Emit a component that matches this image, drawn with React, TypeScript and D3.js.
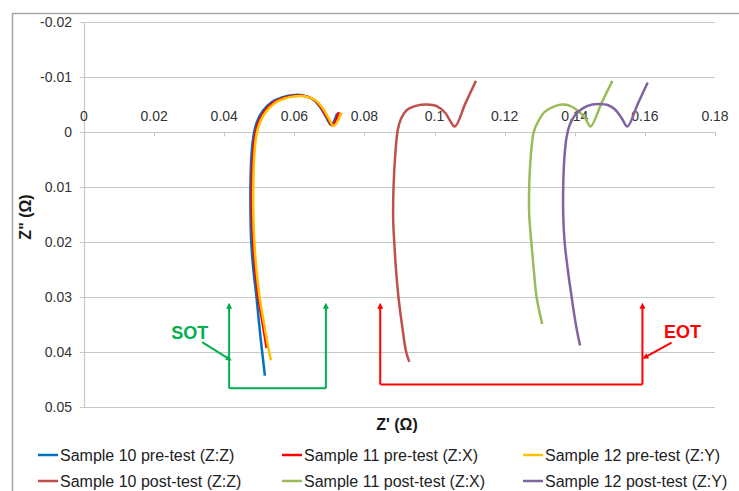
import React from "react";
import * as d3 from "d3";

// Z' (x) and Z'' (y) readings, in ohms
const s10Pre: [number, number][] = [
  [0.0722, -0.0034], [0.0705, -0.0013], [0.069, -0.0028], [0.0672, -0.0047],
  [0.065, -0.0061], [0.0622, -0.0067], [0.0595, -0.0067], [0.0565, -0.0063],
  [0.0535, -0.0054], [0.051, -0.0038], [0.0493, -0.0018], [0.0484, 0.0005],
  [0.0478, 0.004], [0.0475, 0.009], [0.0475, 0.015], [0.0477, 0.02],
  [0.0483, 0.025], [0.0492, 0.03], [0.0503, 0.037], [0.0516, 0.0443],
];
const s11Pre: [number, number][] = [
  [0.0727, -0.0036], [0.0708, -0.0012], [0.0693, -0.0027], [0.0675, -0.0046],
  [0.0653, -0.006], [0.0625, -0.0066], [0.0598, -0.0066], [0.0568, -0.0062],
  [0.0539, -0.0053], [0.0514, -0.0037], [0.0497, -0.0017], [0.0488, 0.0005],
  [0.0482, 0.004], [0.0479, 0.009], [0.0479, 0.015], [0.0482, 0.02],
  [0.0488, 0.025], [0.0497, 0.03], [0.051, 0.035], [0.0521, 0.0393],
];
const s12Pre: [number, number][] = [
  [0.0735, -0.0035], [0.0712, -0.0011], [0.0697, -0.0026], [0.0679, -0.0045],
  [0.0657, -0.0059], [0.0629, -0.0065], [0.0602, -0.0065], [0.0572, -0.0061],
  [0.0543, -0.0052], [0.0518, -0.0036], [0.0501, -0.0016], [0.0492, 0.0005],
  [0.0486, 0.004], [0.0483, 0.009], [0.0483, 0.015], [0.0486, 0.02],
  [0.0492, 0.025], [0.0501, 0.03], [0.0514, 0.035], [0.0525, 0.039],
  [0.0533, 0.0415],
];
const s10Post: [number, number][] = [
  [0.1118, -0.0093], [0.1088, -0.0052], [0.1058, -0.001], [0.1043, -0.0022],
  [0.103, -0.0035], [0.1006, -0.0047], [0.0978, -0.005], [0.0949, -0.0048],
  [0.0921, -0.004], [0.0905, -0.0025], [0.0895, -0.0003], [0.0888, 0.004],
  [0.0883, 0.01], [0.0882, 0.016], [0.0885, 0.02], [0.089, 0.025],
  [0.0897, 0.03], [0.0907, 0.035], [0.0919, 0.04], [0.0928, 0.0418],
];
const s11Post: [number, number][] = [
  [0.1507, -0.0093], [0.1476, -0.0052], [0.1445, -0.001], [0.143, -0.0025],
  [0.1406, -0.004], [0.1385, -0.0048], [0.1363, -0.005], [0.134, -0.0046],
  [0.1315, -0.0037], [0.1298, -0.0022], [0.1283, 0.0], [0.1275, 0.004],
  [0.127, 0.01], [0.127, 0.015], [0.1276, 0.02], [0.1283, 0.025],
  [0.1291, 0.03], [0.1307, 0.0349],
];
const s12Post: [number, number][] = [
  [0.1608, -0.009], [0.1579, -0.005], [0.155, -0.001], [0.1534, -0.0025],
  [0.1515, -0.0041], [0.1494, -0.0049], [0.1472, -0.0051], [0.145, -0.005],
  [0.1425, -0.0044], [0.1401, -0.0031], [0.1385, -0.0012], [0.1376, 0.0012],
  [0.137, 0.005], [0.1367, 0.01], [0.1367, 0.015], [0.1371, 0.02],
  [0.138, 0.025], [0.1391, 0.03], [0.1403, 0.035], [0.1415, 0.0388],
];

const seriesNames = [
  "Sample 10 pre-test (Z:Z)", "Sample 11 pre-test (Z:X)", "Sample 12 pre-test (Z:Y)",
  "Sample 10 post-test (Z:Z)", "Sample 11 post-test (Z:X)", "Sample 12 post-test (Z:Y)",
];
const seriesColors = ["#0070c0", "#ff0000", "#ffc000", "#c0504d", "#9bbb59", "#8064a2"];
const seriesData = [s10Pre, s11Pre, s12Pre, s10Post, s11Post, s12Post];

const xTicks = [0, 0.02, 0.04, 0.06, 0.08, 0.1, 0.12, 0.14, 0.16, 0.18];
const yTicks = [-0.02, -0.01, 0, 0.01, 0.02, 0.03, 0.04, 0.05];

// bracket annotations (data units)
const sotBracket = { x0: 0.0414, x1: 0.069, bottom: 0.0466, top: 0.031 };
const sotPointer = { from: [0.0337, 0.0382], to: [0.041, 0.0411], label: [0.0302, 0.0376] };
const eotBracket = { x0: 0.0845, x1: 0.1593, bottom: 0.0459, top: 0.031 };
const eotPointer = { from: [0.1676, 0.0383], to: [0.1605, 0.0408], label: [0.1707, 0.0375] };

const FONT = "'Liberation Sans', Arial, sans-serif";

export default function App() {
  const x = d3.scaleLinear().domain([0, 0.18]).range([84, 715]);
  const y = d3.scaleLinear().domain([-0.02, 0.05]).range([22, 407]);
  const line = d3
    .line<[number, number]>()
    .x((d) => x(d[0]))
    .y((d) => y(d[1]))
    .curve(d3.curveCatmullRom.alpha(0.5));

  const fmt = (v: number) => (Math.abs(v) < 1e-9 ? "0" : String(+v.toFixed(2)));

  const bracket = (b: typeof sotBracket, color: string, id: string) => (
    <g stroke={color} strokeWidth={2} fill="none">
      <line x1={x(b.x0)} y1={y(b.bottom)} x2={x(b.x0)} y2={y(b.top) + 5} markerEnd={`url(#${id})`} />
      <line x1={x(b.x1)} y1={y(b.bottom)} x2={x(b.x1)} y2={y(b.top) + 5} markerEnd={`url(#${id})`} />
      <line x1={x(b.x0)} y1={y(b.bottom)} x2={x(b.x1)} y2={y(b.bottom)} />
    </g>
  );
  const pointer = (p: typeof sotPointer, color: string, id: string, text: string) => (
    <g>
      <line
        x1={x(p.from[0])} y1={y(p.from[1])} x2={x(p.to[0])} y2={y(p.to[1])}
        stroke={color} strokeWidth={2} markerEnd={`url(#${id})`}
      />
      <text x={x(p.label[0])} y={y(p.label[1])} textAnchor="middle" fontWeight="bold"
        fontSize={18} fill={color} fontFamily={FONT}>{text}</text>
    </g>
  );

  const legendCols = [38, 282, 523];
  const legendRows = [455, 481];

  return (
    <svg width={739} height={491} style={{ position: "absolute", left: 0, top: 0 }} fontFamily={FONT}>
      <defs>
        {[["ah-g", "#00b050"], ["ah-r", "#ff0000"]].map(([id, c]) => (
          <marker key={id} id={id} viewBox="0 0 10 10" refX="2" refY="5" markerWidth="3.2" markerHeight="3"
            orient="auto">
            <path d="M0,0 L10,5 L0,10 z" fill={c} />
          </marker>
        ))}
      </defs>
      <rect x={0} y={0} width={739} height={491} fill="#fff" />
      <rect x={12.5} y={13.5} width={800} height={600} fill="none" stroke="#a6a6a6" strokeWidth={1.5} />

      {/* gridlines */}
      {yTicks.map((t) => (
        <line key={t} x1={84} x2={715} y1={Math.round(y(t)) + 0.5} y2={Math.round(y(t)) + 0.5}
          stroke="#c8c8c8" strokeWidth={1.2} />
      ))}
      <line x1={84.5} x2={84.5} y1={y(-0.02)} y2={y(0.05)} stroke="#c8c8c8" strokeWidth={1.2} />
      {yTicks.map((t) => (
        <g key={"yt" + t}>
          <line x1={80} x2={84} y1={Math.round(y(t)) + 0.5} y2={Math.round(y(t)) + 0.5} stroke="#c8c8c8" />
          <text x={72} y={y(t)} dy="0.35em" textAnchor="end" fontSize={14} fill="#333">{fmt(t)}</text>
        </g>
      ))}
      {xTicks.map((t) => (
        <g key={"xt" + t}>
          <line x1={Math.round(x(t)) + 0.5} x2={Math.round(x(t)) + 0.5} y1={y(0)} y2={y(0) + 4.5}
            stroke="#c8c8c8" />
          <text x={x(t)} y={y(0) - 11} textAnchor="middle" fontSize={14} fill="#333">{fmt(t)}</text>
        </g>
      ))}

      {/* series */}
      {seriesData.map((d, i) => (
        <path key={seriesNames[i]} d={line(d) || ""} fill="none" stroke={seriesColors[i]}
          strokeWidth={2.5} strokeLinejoin="round" strokeLinecap="butt" />
      ))}

      {/* annotations */}
      {bracket(sotBracket, "#00b050", "ah-g")}
      {pointer(sotPointer, "#00b050", "ah-g", "SOT")}
      {bracket(eotBracket, "#ff0000", "ah-r")}
      {pointer(eotPointer, "#ff0000", "ah-r", "EOT")}

      {/* axis titles */}
      <text x={397} y={430} textAnchor="middle" fontWeight="bold" fontSize={16} fill="#1a1a1a">Z' (Ω)</text>
      <text transform="translate(31,217) rotate(-90)" textAnchor="middle" fontWeight="bold" fontSize={16}
        fill="#1a1a1a">Z" (Ω)</text>

      {/* legend */}
      {seriesNames.map((name, i) => {
        const cx = legendCols[i % 3];
        const cy = legendRows[Math.floor(i / 3)];
        return (
          <g key={"lg" + name}>
            <line x1={cx} x2={cx + 20} y1={cy} y2={cy} stroke={seriesColors[i]} strokeWidth={2.5} />
            <text x={cx + 22} y={cy} dy="0.35em" fontSize={16} fill="#222">{name}</text>
          </g>
        );
      })}
    </svg>
  );
}
